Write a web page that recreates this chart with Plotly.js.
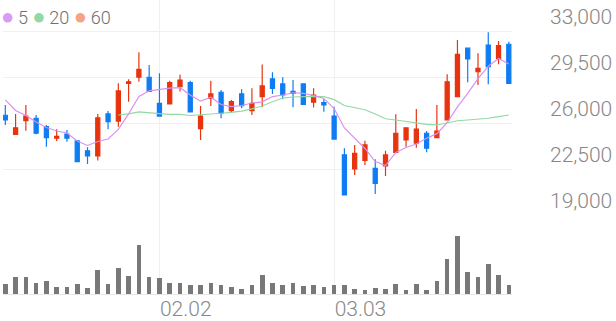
<!DOCTYPE html>
<html>
<head>
<meta charset="utf-8">
<script src="https://cdn.plot.ly/plotly-3.0.1.min.js"></script>
<style>
html,body{margin:0;padding:0;background:#fff;}
#chart{width:616px;height:321px;}
</style>
</head>
<body>
<div id="chart"></div>
<script>
// trading days (MM.DD)
const dates = ['01.12','01.13','01.14','01.15','01.16','01.19','01.20','01.21','01.22','01.23',
  '01.26','01.27','01.28','01.29','01.30','02.02','02.03','02.04','02.05','02.06',
  '02.09','02.10','02.11','02.12','02.13','02.19','02.20','02.23','02.24','02.25',
  '02.26','02.27','03.03','03.04','03.05','03.06','03.09','03.10','03.11','03.12',
  '03.13','03.16','03.17','03.18','03.19','03.20','03.23','03.24','03.25','03.26'];

const openP  = [26590,25140,26180,26360,25720,24840,25160,24650,23890,23490,
  26690,26150,29020,29480,29480,27500,27450,28760,29070,25570,
  27880,28340,26940,28210,26940,28000,29350,28970,28410,28970,
  27580,27550,26530,23570,22500,23150,22550,22730,23770,24710,
  24460,25220,24880,26230,28000,31690,29900,31930,30920,31990];
const highP  = [27370,26690,27370,26610,25850,25520,25470,24710,24150,26690,
  26910,29020,29330,31380,30420,29780,29220,29680,29220,27290,
  29220,28510,27750,28560,28640,30450,29860,29480,29270,29020,
  28640,27800,27240,24080,24330,24650,23240,23890,26660,25640,
  27070,25390,27370,29710,32320,31690,31300,32900,32240,32190];
const lowP   = [25850,25140,25410,25140,24200,24630,24580,23060,22880,23150,
  25520,25720,27620,29140,28400,26530,27450,28400,26840,24710,
  27290,26360,26780,27120,26610,27200,28210,27800,27200,27420,
  27170,26860,24780,20520,22040,22800,20600,21970,23700,24200,
  24120,23770,24880,26230,28000,29100,28890,28950,30470,29020];
const closeP = [26230,25640,26530,25220,24880,24990,24840,23060,23490,26400,
  26100,28440,29140,30090,28400,26530,29070,29270,26840,26530,
  28210,26740,27620,27320,27500,28820,28640,28130,28260,27420,
  28130,27370,24780,20520,23700,24330,21410,23570,25220,25640,
  25540,24080,25390,29140,31230,30870,30160,30280,31880,29020];

// moving averages
const ma5 = [27760,26950,26570,26080,25660,25390,25240,24630,24290,24590,
  24780,25510,26690,28020,28450,28550,28650,28690,28130,27660,
  27960,27410,27240,27330,27520,27610,28010,28130,28300,28250,
  28090,27870,27100,25620,24860,24060,23070,22760,23760,24140,
  24400,24840,25190,26020,27220,28250,29380,30320,30910,30490];
const ma20Dates = dates.slice(11);
const ma20 = [26610,26690,26840,26760,26710,26660,26660,26570,26610,26690,
  26740,26810,26910,27080,27290,27620,27900,27980,28030,28030,
  28000,27780,27330,27160,27010,26690,26320,26230,26130,26040,
  25890,25850,26020,26170,26230,26280,26360,26480,26610];

// volume (thousand shares)
const volume = [30,51,51,33,38,20,20,30,19,71,29,77,53,148,50,47,32,34,28,26,
  34,26,20,14,26,57,32,26,32,25,26,21,26,27,14,12,18,15,29,12,
  30,11,40,106,175,65,51,89,57,27];

const priceTicks = [19000,22500,26000,29500,33000];
const priceTickText = ['19,000','22,500','26,000','29,500','33,000'];
const dateTicks = ['02.02','03.03'];
const maLabels = ['5','20','60'];
const maColors = ['#d99cf2','#93d9a5','#f5a383'];

const RED = '#e8340e', BLUE = '#0e7cf2';
const labelFont = {family:'Roboto, sans-serif', size:21, color:'#888888', weight:300};

const traces = [
  {type:'bar', x:dates, y:volume, xaxis:'x', yaxis:'y2', width:0.45,
   marker:{color:'#787878', line:{width:0}}, hoverinfo:'skip'},
  {type:'candlestick', x:dates, open:openP, high:highP, low:lowP, close:closeP,
   xaxis:'x', yaxis:'y',
   increasing:{line:{color:RED, width:1.2}, fillcolor:RED},
   decreasing:{line:{color:BLUE, width:1.2}, fillcolor:BLUE},
   whiskerwidth:0, hoverinfo:'skip'},
  {type:'scatter', mode:'lines', x:ma20Dates, y:ma20, xaxis:'x', yaxis:'y',
   line:{color:'#93d9a3', width:1.2}, hoverinfo:'skip'},
  {type:'scatter', mode:'lines', x:dates, y:ma5, xaxis:'x', yaxis:'y',
   line:{color:'#d991f0', width:1.2}, hoverinfo:'skip'}
];

const volTop = (294-215.5)/294;
const legendText = maLabels.map((t, i) =>
  '<span style="color:' + maColors[i] + ';font-size:22px">●</span>\u2009' + t).join(' ');
const layout = {
  width:616, height:321,
  margin:{l:3, r:104, t:0, b:27, pad:0},
  paper_bgcolor:'#ffffff', plot_bgcolor:'#ffffff',
  showlegend:false,
  boxgap:0.6, boxgroupgap:0,
  bargap:0,
  xaxis:{
    type:'category', categoryorder:'array', categoryarray:dates,
    range:[-0.224, 49.31], anchor:'y2',
    rangeslider:{visible:false},
    showgrid:true, gridcolor:'#f0f0f0', gridwidth:1,
    showline:true, linecolor:'#e6e6e6', linewidth:1,
    zeroline:false, ticks:'',
    tickmode:'array', tickvals:dateTicks, ticktext:dateTicks,
    ticklabelposition:'outside right', ticklabelstandoff:-4,
    tickfont:labelFont, fixedrange:true
  },
  yaxis:{
    domain:[volTop, 1], side:'right', anchor:'x',
    range:[18962, 18962 + 215.5*76.087],
    tickmode:'array', tickvals:priceTicks, ticktext:priceTickText,
    showgrid:true, gridcolor:'#f0f0f0', gridwidth:1,
    zeroline:false, showline:false, ticks:'',
    ticklabelshift:-14, ticklabelstandoff:37,
    tickfont:labelFont, fixedrange:true
  },
  yaxis2:{
    domain:[0, volTop], anchor:'x', range:[0, 235.5],
    showgrid:false, zeroline:false, showline:false, showticklabels:false, ticks:'',
    fixedrange:true
  },
  annotations:[{
    xref:'paper', yref:'paper', x:0, y:1, xanchor:'left', yanchor:'middle',
    xshift:-4, yshift:-16, showarrow:false, align:'left',
    font:{family:'Roboto, sans-serif', size:18, color:'#707070', weight:300},
    text: legendText
  }]
};

Plotly.newPlot('chart', traces, layout, {displayModeBar:false, staticPlot:true});
</script>
</body>
</html>
